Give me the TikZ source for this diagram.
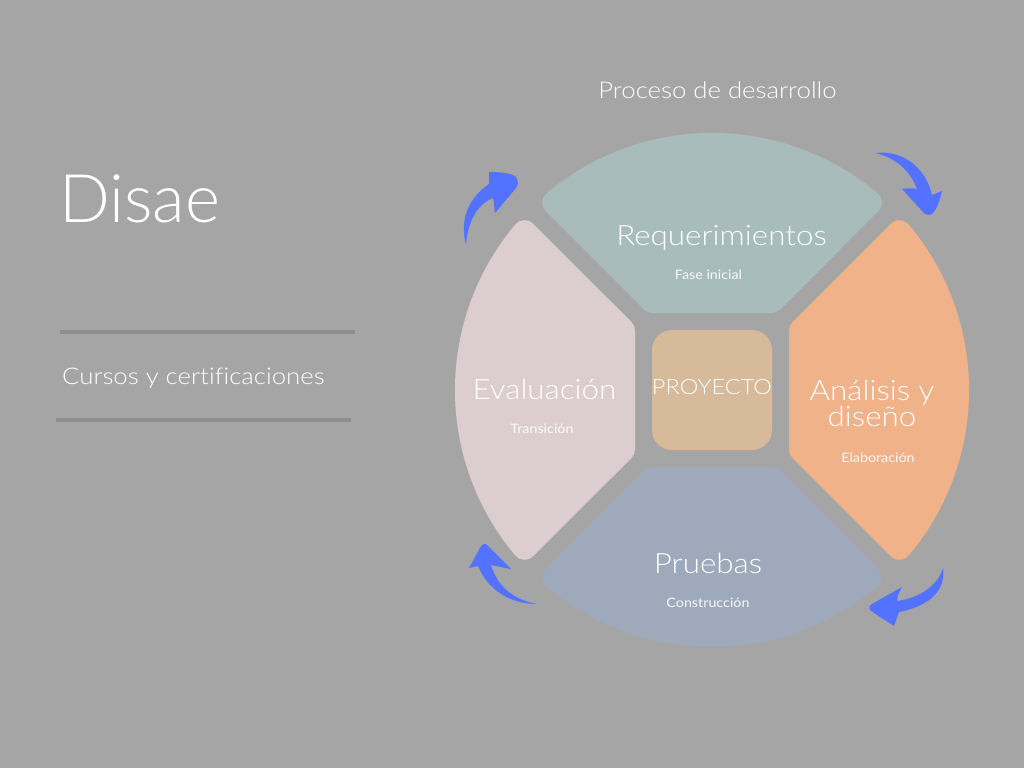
\documentclass[tikz,border=0pt]{standalone}
\usepackage{fontspec}
\setmainfont{Lato Light}[FakeStretch=1.12, Ligatures=NoCommon]
\newfontfamily\titlefont{Lato Light}
\newfontfamily\smallfont{Lato}[FakeStretch=1.1, Ligatures=NoCommon]
\definecolor{bg}{HTML}{A5A5A5}
\definecolor{rule}{HTML}{8F8F8F}
\definecolor{segteal}{HTML}{A8BDBB}
\definecolor{segpink}{HTML}{DCCDD0}
\definecolor{segorange}{HTML}{F0B289}
\definecolor{segblue}{HTML}{9EA9BC}
\definecolor{core}{HTML}{D6BA9A}
\definecolor{arrowblue}{HTML}{5372FF}
\tikzset{
  segment/.style={fill=#1, draw=#1, line width=24pt, line join=round},
  title/.style={text=white, inner sep=0pt, font=\titlefont\fontsize{67}{67}\selectfont},
  caption/.style={text=white, inner sep=0pt, font=\fontsize{23}{23}\selectfont},
  phase/.style={text=white, inner sep=0pt, align=center, font=\fontsize{28}{26}\selectfont},
  subphase/.style={text=white, text opacity=0.92, inner sep=0pt, font=\smallfont\fontsize{13}{13}\selectfont},
  cycle arrow/.style={fill=arrowblue, draw=none},
  divider/.style={draw=rule, line width=4pt}
}
% one ring segment (the upper one), drawn shrunk and stroked round to round its corners
\newcommand{\ringsegment}[1]{%
  \path[segment=#1] (59.53,89) -- (157.9,187.4)
    arc[start angle=49.88, end angle=130.12, radius=245] -- (-59.53,89) -- cycle;}
\begin{document}
\begin{tikzpicture}[x=1pt, y=-1pt]
  \fill[bg] (0,0) rectangle (1024,768);
  \useasboundingbox (0,0) rectangle (1024,768);

  % left column
  \node[title, anchor=base west] (brand) at (59,222) {Disae};
  \draw[divider] (60,332) -- (355,332);
  \node[caption, anchor=base west] (courses) at (62,384) {Cursos y certificaciones};
  \draw[divider] (56,420) -- (351,420);

  \node[caption, anchor=base] (process) at (717.5,98) {Proceso de desarrollo};

  % the four ring segments around the centre
  \begin{scope}[shift={(712,390)}, yscale=-1]
    \ringsegment{segteal}
    \begin{scope}[rotate=270]\ringsegment{segpink}\end{scope}
    \begin{scope}[rotate=180]\ringsegment{segblue}\end{scope}
    \begin{scope}[rotate=90]\ringsegment{segorange}\end{scope}
  \end{scope}
  \fill[core, rounded corners=20pt] (652,330) rectangle (772,450);

  % labels
  \node[phase, anchor=base] (req) at (721.5,245) {Requerimientos};
  \node[subphase, anchor=base] (reqsub) at (708.5,279) {Fase inicial};
  \node[phase, anchor=base] (eval) at (544.5,399) {Evaluación};
  \node[subphase, anchor=base] (evalsub) at (542,433) {Transición};
  \node[text=white, inner sep=0pt, anchor=base, font=\fontsize{21}{21}\selectfont] (proj) at (712,394) {PROYECTO};
  \node[phase, anchor=base] (anal) at (872,426) {Análisis y\\diseño};
  \node[subphase, anchor=base] (analsub) at (878,462) {Elaboración};
  \node[phase, anchor=base] (test) at (708,573) {Pruebas};
  \node[subphase, anchor=base] (testsub) at (708,607) {Construcción};

  % clockwise cycle arrows
  \path[cycle arrow] (466,245) .. controls (460,222) and (466,200) .. (489,184)
    -- (489,172) .. controls (500,172) and (512,173) .. (516,177)
    .. controls (519,181) and (518,186) .. (516,188)
    -- (495,213) .. controls (494,206) and (494,202) .. (493,198)
    .. controls (478,204) and (468,220) .. (466,245) -- cycle;
  \path[cycle arrow] (876,153) .. controls (900,150) and (925,165) .. (932,195)
    -- (942,191) .. controls (940,200) and (937,208) .. (934,212)
    .. controls (931,216) and (926,216) .. (923,212)
    -- (902,189) .. controls (908,188) and (913,188) .. (917,189)
    .. controls (910,170) and (895,158) .. (876,153) -- cycle;
  \path[cycle arrow] (943,568) .. controls (946,590) and (930,606) .. (899,612)
    -- (894,626) -- (874,613)
    .. controls (868,610) and (868,606) .. (872,604)
    -- (902,587) .. controls (899,592) and (897,597) .. (897,601)
    .. controls (920,598) and (938,585) .. (943,568) -- cycle;
  \path[cycle arrow] (537,604) .. controls (510,604) and (488,590) .. (478,566)
    -- (469,568) -- (480,548)
    .. controls (482,543) and (486,543) .. (488,546)
    -- (511,569) .. controls (505,568) and (496,566) .. (491,565)
    .. controls (498,588) and (515,600) .. (537,604) -- cycle;
\end{tikzpicture}
\end{document}
